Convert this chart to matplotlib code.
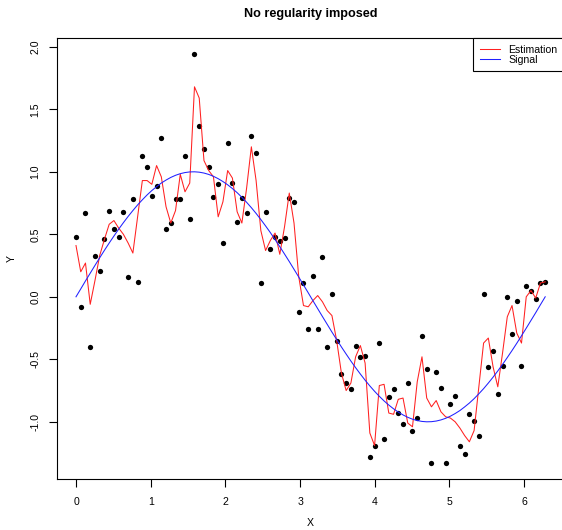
import numpy as np
import matplotlib
matplotlib.use('Agg')
import matplotlib.pyplot as plt

plt.rcParams['font.family'] = ['Liberation Sans', 'DejaVu Sans']

# sampling grid, 100 points on [0, 2pi]
x = np.linspace(0, 2*np.pi, 100)

obs = [0.48, -0.08, 0.67, -0.40, 0.33, 0.21, 0.46, 0.69, 0.54, 0.48,
       0.68, 0.16, 0.78, 0.12, 1.13, 1.04, 0.81, 0.89, 1.27, 0.54,
       0.59, 0.78, 0.78, 1.13, 0.62, 1.94, 1.37, 1.18, 1.04, 0.80,
       0.90, 0.43, 1.23, 0.91, 0.60, 0.79, 0.67, 1.29, 1.15, 0.11,
       0.68, 0.38, 0.48, 0.45, 0.47, 0.79, 0.76, -0.12, 0.11, -0.26,
       0.17, -0.26, 0.32, -0.40, 0.02, -0.35, -0.62, -0.69, -0.74, -0.39,
       -0.48, -0.47, -1.28, -1.19, -0.37, -1.14, -0.80, -0.74, -0.93, -1.02,
       -0.69, -1.07, -0.97, -0.31, -0.58, -1.33, -0.60, -0.73, -1.33, -0.86,
       -0.79, -1.19, -1.26, -0.94, -0.99, -1.11, 0.02, -0.56, -0.43, -0.78,
       -0.55, 0.00, -0.30, -0.03, -0.55, 0.09, 0.05, -0.02, 0.11, 0.12]

# estimation (red)
est = [0.41, 0.20, 0.27, -0.06, 0.13, 0.33, 0.46, 0.58, 0.61, 0.55,
       0.50, 0.43, 0.35, 0.64, 0.93, 0.93, 0.90, 1.05, 0.96, 0.72,
       0.59, 0.69, 0.98, 0.84, 0.91, 1.68, 1.59, 1.09, 1.01, 0.96,
       0.64, 0.76, 1.01, 0.95, 0.68, 0.59, 0.87, 1.20, 0.93, 0.53,
       0.37, 0.45, 0.51, 0.34, 0.56, 0.83, 0.59, 0.16, -0.07, -0.08,
       -0.03, 0.01, -0.04, -0.11, -0.15, -0.35, -0.61, -0.75, -0.69, -0.48,
       -0.39, -0.53, -1.09, -1.19, -0.71, -0.70, -0.93, -0.94, -0.82, -0.81,
       -1.01, -1.04, -0.68, -0.48, -0.81, -0.88, -0.83, -0.92, -0.96, -0.97,
       -1.00, -1.05, -1.11, -1.16, -1.07, -0.72, -0.37, -0.33, -0.56, -0.72,
       -0.45, -0.16, -0.07, -0.29, -0.37, 0.00, 0.05, -0.01, 0.11, 0.12]

# signal (blue)
sig = [0.000, 0.063, 0.127, 0.189, 0.251, 0.312, 0.372, 0.430, 0.486, 0.541,
       0.593, 0.643, 0.690, 0.735, 0.776, 0.815, 0.850, 0.881, 0.910, 0.934,
       0.955, 0.972, 0.985, 0.994, 0.999, 1.000, 0.997, 0.990, 0.979, 0.964,
       0.945, 0.922, 0.896, 0.866, 0.833, 0.796, 0.756, 0.713, 0.667, 0.618,
       0.567, 0.514, 0.458, 0.401, 0.342, 0.282, 0.220, 0.158, 0.095, 0.032,
       -0.032, -0.095, -0.158, -0.220, -0.282, -0.342, -0.401, -0.458, -0.514, -0.567,
       -0.618, -0.667, -0.713, -0.756, -0.796, -0.833, -0.866, -0.896, -0.922, -0.945,
       -0.964, -0.979, -0.990, -0.997, -1.000, -0.999, -0.994, -0.985, -0.972, -0.955,
       -0.934, -0.910, -0.881, -0.850, -0.815, -0.776, -0.735, -0.690, -0.643, -0.593,
       -0.541, -0.486, -0.430, -0.372, -0.312, -0.251, -0.189, -0.127, -0.063, 0.000]

xticks = [0, 1, 2, 3, 4, 5, 6]
yticks = [-1.0, -0.5, 0.0, 0.5, 1.0, 1.5, 2.0]

W, H = 562, 530
fig = plt.figure(figsize=(W/100, H/100), dpi=100)
ax = fig.add_axes([57.2/W, 51.5/H, (564-57.2)/W, (478.5-38.3)/H])

ax.plot(x, obs, 'o', color='black', ms=3.8, mew=0)
ax.plot(x, est, color='#ff2020', lw=0.75, label='Estimation')
ax.plot(x, sig, color='#2020ff', lw=0.75, label='Signal')

ax.set_xlim(-0.2518, 6.535)
ax.set_ylim(-1.4536, 2.068)
ax.set_xticks(xticks)
ax.set_xticklabels([str(t) for t in xticks])
ax.set_yticks(yticks)
ax.set_yticklabels(['%.1f' % t for t in yticks], rotation=90, va='center')
ax.tick_params(direction='out', length=6, width=0.8, labelsize=7.6, colors='black')
ax.tick_params(axis='x', pad=7)
ax.tick_params(axis='y', pad=6)
for s in ax.spines.values():
    s.set_linewidth(0.8)

ax.set_xlabel('X', fontsize=7.6, va='center')
ax.xaxis.set_label_coords(0.5, -(523-478.5)/440.2)
ax.set_ylabel('Y', fontsize=7.6, va='center', ha='center')
ax.yaxis.set_label_coords((12-57.2)/506.8, 0.5)

fig.text(310.6/W, 1-14/H, 'No regularity imposed', ha='center', va='center',
         fontsize=9.1, fontweight='bold')

leg = ax.legend(loc='upper right', borderaxespad=0, fancybox=False, fontsize=7.6,
                labelspacing=0.0, handlelength=1.9, handletextpad=0.85,
                borderpad=0.6, framealpha=1)
leg.get_frame().set_edgecolor('black')
leg.get_frame().set_linewidth(0.8)

plt.savefig('out.png', dpi=100)
